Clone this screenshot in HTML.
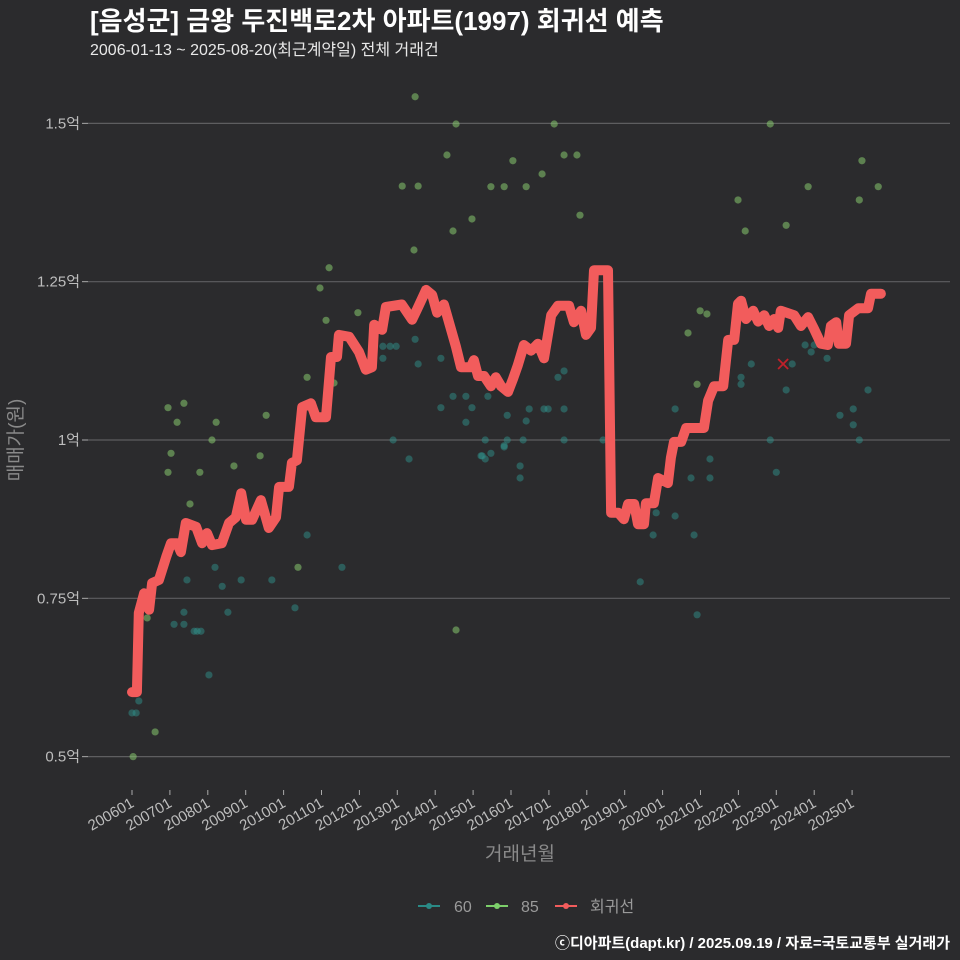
<!DOCTYPE html>
<html><head><meta charset="utf-8">
<style>
html,body{margin:0;padding:0;background:#2b2b2d;}
svg{display:block;font-family:"Liberation Sans","Noto Sans CJK KR",sans-serif;}
</style></head>
<body>
<svg id="chart" width="960" height="960" viewBox="0 0 960 960">
<rect x="0" y="0" width="960" height="960" fill="#2b2b2d"/>
<text x="90" y="30" fill="#ffffff" font-size="26" font-weight="bold">[음성군] 금왕 두진백로2차 아파트(1997) 회귀선 예측</text>
<text x="90" y="55" fill="#e8e8e8" font-size="16">2006-01-13 ~ 2025-08-20(최근계약일) 전체 거래건</text>
<g id="grid"></g>
<g id="yaxis"></g>
<g id="xaxis"></g>
<g id="pts60"></g>
<g id="pts85"></g>
<g id="reg"></g>
<text transform="translate(22,440) rotate(-90)" text-anchor="middle" fill="#8a8a8a" font-size="19">매매가(원)</text>
<text x="520" y="860" text-anchor="middle" fill="#8a8a8a" font-size="19">거래년월</text>
<g>
 <g>
  <line x1="418" y1="906" x2="440" y2="906" stroke="#2a8a86" stroke-width="2"/>
  <circle cx="429" cy="906" r="3" fill="#2a8a86"/>
  <text x="454" y="912" fill="#9a9a9a" font-size="16">60</text>
 </g>
 <g>
  <line x1="486" y1="906" x2="508" y2="906" stroke="#7ccf6a" stroke-width="2"/>
  <circle cx="497" cy="906" r="3" fill="#7ccf6a"/>
  <text x="521" y="912" fill="#9a9a9a" font-size="16">85</text>
 </g>
 <g>
  <line x1="555" y1="906" x2="577" y2="906" stroke="#f25c5c" stroke-width="2"/>
  <circle cx="566" cy="906" r="3" fill="#f25c5c"/>
  <text x="590" y="912" fill="#9a9a9a" font-size="16">회귀선</text>
 </g>
</g>
<text x="950" y="948" text-anchor="end" fill="#ffffff" font-size="15" font-weight="bold">ⓒ디아파트(dapt.kr) / 2025.09.19 / 자료=국토교통부 실거래가</text>
</svg>
<script>
const yTicks = [0.5, 0.75, 1, 1.25, 1.5];
const yTickLabels = ["0.5억", "0.75억", "1억", "1.25억", "1.5억"];
const xTickYears = [2006,2007,2008,2009,2010,2011,2012,2013,2014,2015,2016,2017,2018,2019,2020,2021,2022,2023,2024,2025];
const xTickLabels = ["200601","200701","200801","200901","201001","201101","201201","201301","201401","201501","201601","201701","201801","201901","202001","202101","202201","202301","202401","202501"];

const regT = [2006.00,2006.13,2006.18,2006.32,2006.45,2006.53,2006.71,2006.90,2007.03,2007.19,2007.29,2007.42,2007.69,2007.85,2007.98,2008.11,2008.37,2008.56,2008.74,2008.88,2009.01,2009.17,2009.40,2009.61,2009.80,2009.88,2010.14,2010.22,2010.35,2010.49,2010.72,2010.85,2011.12,2011.25,2011.41,2011.46,2011.73,2011.99,2012.17,2012.33,2012.39,2012.60,2012.70,2013.12,2013.39,2013.52,2013.76,2013.92,2014.05,2014.23,2014.55,2014.68,2014.94,2015.02,2015.13,2015.29,2015.47,2015.60,2015.74,2015.92,2016.05,2016.18,2016.34,2016.53,2016.71,2016.87,2017.06,2017.24,2017.53,2017.66,2017.85,2017.98,2018.11,2018.19,2018.56,2018.64,2018.83,2018.98,2019.09,2019.25,2019.35,2019.51,2019.56,2019.77,2019.88,2020.14,2020.22,2020.30,2020.49,2020.62,2021.09,2021.20,2021.36,2021.60,2021.73,2021.89,2021.99,2022.07,2022.20,2022.39,2022.52,2022.68,2022.81,2022.94,2023.05,2023.12,2023.47,2023.65,2023.84,2024.00,2024.18,2024.36,2024.44,2024.58,2024.65,2024.84,2024.92,2025.16,2025.42,2025.50,2025.76];
const regV = [0.602,0.602,0.727,0.758,0.732,0.774,0.779,0.815,0.837,0.837,0.823,0.869,0.863,0.837,0.853,0.834,0.837,0.869,0.878,0.916,0.874,0.874,0.905,0.861,0.878,0.926,0.926,0.964,0.968,1.052,1.058,1.036,1.036,1.131,1.131,1.166,1.163,1.139,1.111,1.115,1.182,1.174,1.210,1.214,1.190,1.206,1.237,1.229,1.201,1.214,1.147,1.115,1.115,1.126,1.101,1.101,1.085,1.099,1.085,1.076,1.096,1.118,1.150,1.141,1.152,1.129,1.197,1.212,1.212,1.186,1.204,1.166,1.177,1.268,1.268,0.885,0.885,0.875,0.899,0.899,0.867,0.867,0.900,0.900,0.940,0.932,0.972,0.997,0.997,1.019,1.019,1.062,1.085,1.085,1.158,1.158,1.215,1.220,1.191,1.204,1.187,1.197,1.180,1.191,1.177,1.204,1.197,1.180,1.194,1.175,1.152,1.150,1.180,1.186,1.152,1.152,1.197,1.208,1.208,1.231,1.231];

const s85T = [2010.96,2011.12,2011.96,2010.62,2006.95,2007.37,2007.19,2008.22,2009.54,2008.11,2007.03,2006.95,2007.79,2008.69,2009.38,2007.53,2010.38,2011.33,2006.61,2006.03,2006.40,2014.55,2017.14,2022.84,2014.31,2017.40,2017.74,2016.05,2016.82,2015.47,2015.82,2016.40,2025.26,2023.84,2025.69,2025.19,2021.99,2014.97,2014.47,2017.82,2022.18,2023.26,2020.99,2021.17,2020.67,2020.91,2013.47,2014.55,2013.13,2013.55,2013.44,2011.20];
const s85V = [1.240,1.189,1.201,1.099,1.051,1.058,1.028,1.028,1.039,1.000,0.979,0.949,0.949,0.959,0.975,0.899,0.799,1.090,0.539,0.500,0.719,1.499,1.499,1.499,1.450,1.450,1.450,1.441,1.420,1.400,1.400,1.400,1.441,1.400,1.400,1.379,1.379,1.349,1.330,1.355,1.330,1.339,1.204,1.199,1.169,1.088,1.542,0.700,1.401,1.401,1.300,1.272];

const s60T = [2012.62,2012.81,2012.97,2012.62,2013.47,2013.55,2014.15,2014.15,2014.47,2014.81,2014.97,2014.81,2015.39,2012.89,2013.31,2015.32,2015.24,2015.32,2015.47,2015.82,2015.90,2010.62,2011.54,2008.19,2007.45,2008.38,2008.88,2009.69,2007.37,2008.53,2010.30,2007.11,2007.37,2007.64,2007.72,2007.82,2008.03,2006.18,2006.00,2006.11,2016.48,2016.87,2016.98,2017.40,2016.40,2017.24,2017.40,2015.90,2016.32,2017.40,2018.43,2015.21,2015.82,2016.24,2016.24,2020.33,2021.25,2020.75,2021.25,2019.83,2020.33,2019.75,2020.83,2019.41,2020.91,2022.34,2022.07,2022.07,2023.42,2023.26,2023.76,2023.92,2024.00,2024.34,2025.42,2024.68,2025.03,2025.03,2022.84,2025.19,2023.00];
const s60V = [1.148,1.148,1.148,1.129,1.159,1.120,1.129,1.051,1.069,1.069,1.051,1.028,1.069,1.000,0.970,1.000,0.975,0.970,0.979,0.989,1.039,0.850,0.799,0.799,0.779,0.769,0.779,0.779,0.728,0.728,0.735,0.709,0.709,0.698,0.698,0.698,0.629,0.588,0.569,0.569,1.049,1.049,1.049,1.049,1.030,1.099,1.109,1.000,1.000,1.000,1.000,0.975,0.991,0.959,0.940,1.049,0.970,0.940,0.940,0.885,0.880,0.850,0.850,0.776,0.724,1.120,1.099,1.088,1.120,1.079,1.150,1.139,1.150,1.129,1.079,1.039,1.049,1.024,1.000,1.000,0.949];

const predT = [2023.18];
const predV = [1.12];

const NS = "http://www.w3.org/2000/svg";
function xScale(t){ return 132 + (t - 2006) * 37.9; }
function yScale(v){ return 440 - (v - 1) * 633.3; }
function mk(tag, attrs, parent){
  const el = document.createElementNS(NS, tag);
  for (const k in attrs) el.setAttribute(k, attrs[k]);
  parent.appendChild(el);
  return el;
}
const grid = document.getElementById('grid');
const yaxis = document.getElementById('yaxis');
const xaxis = document.getElementById('xaxis');
yTicks.forEach((v,i)=>{
  const y = yScale(v);
  const gl = mk('line',{x1:88,x2:950,y1:y,y2:y,stroke:'#5e5e60','stroke-width':1.2},grid);
  
  
  const tk = mk('line',{x1:82,x2:88,y1:y,y2:y,stroke:'#aaaaaa','stroke-width':1},yaxis);
  
  
  const tx = mk('text',{x:80,y:y+5,'text-anchor':'end',fill:'#bdbdbd','font-size':15},yaxis);
  tx.textContent = yTickLabels[i];
  
  
});
xTickYears.forEach((yr,i)=>{
  const x = xScale(yr);
  const tk = mk('line',{x1:x,x2:x,y1:790,y2:795,stroke:'#aaaaaa','stroke-width':1},xaxis);
  
  
  const tx = mk('text',{transform:`translate(${x+3},${806}) rotate(-30)`,'text-anchor':'end',fill:'#bdbdbd','font-size':15},xaxis);
  tx.textContent = xTickLabels[i];
  
  
});
const g60 = document.getElementById('pts60');
s60T.forEach((t,i)=>{
  const c = mk('circle',{cx:xScale(t),cy:yScale(s60V[i]),r:3.6,fill:'#2f8f89','fill-opacity':0.5},g60);
  
  
});
const g85 = document.getElementById('pts85');
s85T.forEach((t,i)=>{
  const c = mk('circle',{cx:xScale(t),cy:yScale(s85V[i]),r:3.6,fill:'#86c96e','fill-opacity':0.55},g85);
  
  
});
const reg = document.getElementById('reg');
const d = regT.map((t,i)=>(i?'L':'M')+xScale(t).toFixed(1)+','+yScale(regV[i]).toFixed(1)).join(' ');
const path = mk('path',{d:d,fill:'none',stroke:'#f25c5c','stroke-width':10,'stroke-linejoin':'round','stroke-linecap':'round'},reg);


predT.forEach((t,i)=>{
  const x = xScale(t), y = yScale(predV[i]);
  const p = mk('path',{d:`M${x-5},${y-5}L${x+5},${y+5}M${x-5},${y+5}L${x+5},${y-5}`,stroke:'#c0202a','stroke-width':1.8},reg);
  
  
});
</script>
</body></html>
